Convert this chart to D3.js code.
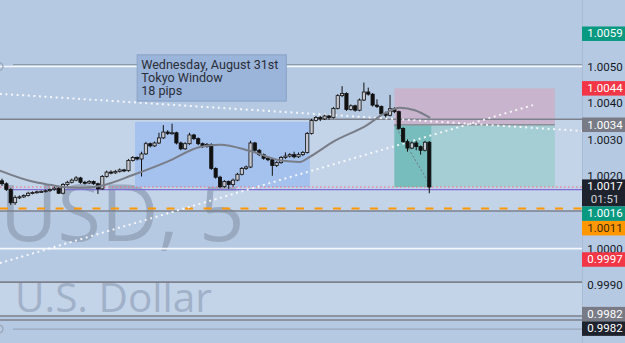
<!DOCTYPE html>
<html>
<head>
<meta charset="utf-8">
<script src="https://cdn.jsdelivr.net/npm/d3@7"></script>
<style>
  html, body { margin: 0; padding: 0; background: #b6c9e2; overflow: hidden; }
  svg { display: block; }
</style>
</head>
<body>
<div id="chart"></div>
<script>
// ── Velas 5m: [open, high, low, close] ─────────────────────────────────
const candles = [
  [1.00186, 1.00192, 1.00172, 1.00178], [1.00178, 1.00182, 1.00158, 1.00162],
  [1.00162, 1.00166, 1.00120, 1.00126], [1.00126, 1.00146, 1.00120, 1.00140],
  [1.00140, 1.00146, 1.00136, 1.00142], [1.00142, 1.00149, 1.00139, 1.00146],
  [1.00146, 1.00156, 1.00143, 1.00152], [1.00152, 1.00157, 1.00149, 1.00154],
  [1.00154, 1.00159, 1.00151, 1.00156], [1.00156, 1.00160, 1.00153, 1.00157],
  [1.00157, 1.00162, 1.00154, 1.00159], [1.00159, 1.00165, 1.00156, 1.00162],
  [1.00162, 1.00170, 1.00159, 1.00166], [1.00166, 1.00169, 1.00150, 1.00152],
  [1.00152, 1.00180, 1.00149, 1.00176], [1.00176, 1.00186, 1.00172, 1.00182],
  [1.00182, 1.00192, 1.00179, 1.00188], [1.00188, 1.00199, 1.00185, 1.00194],
  [1.00194, 1.00197, 1.00178, 1.00182], [1.00182, 1.00186, 1.00176, 1.00180],
  [1.00180, 1.00188, 1.00177, 1.00184], [1.00184, 1.00187, 1.00175, 1.00178],
  [1.00178, 1.00181, 1.00150, 1.00164], [1.00164, 1.00202, 1.00161, 1.00198],
  [1.00198, 1.00214, 1.00195, 1.00210], [1.00210, 1.00215, 1.00204, 1.00208],
  [1.00208, 1.00216, 1.00205, 1.00212], [1.00212, 1.00220, 1.00209, 1.00216],
  [1.00216, 1.00219, 1.00210, 1.00214], [1.00214, 1.00246, 1.00211, 1.00242],
  [1.00242, 1.00254, 1.00239, 1.00250], [1.00250, 1.00253, 1.00242, 1.00246],
  [1.00246, 1.00266, 1.00198, 1.00260], [1.00260, 1.00293, 1.00257, 1.00288],
  [1.00288, 1.00291, 1.00278, 1.00282], [1.00282, 1.00294, 1.00279, 1.00290],
  [1.00290, 1.00318, 1.00287, 1.00304], [1.00304, 1.00339, 1.00301, 1.00320],
  [1.00320, 1.00325, 1.00312, 1.00316], [1.00316, 1.00343, 1.00313, 1.00318],
  [1.00318, 1.00321, 1.00286, 1.00290], [1.00290, 1.00294, 1.00270, 1.00274],
  [1.00274, 1.00292, 1.00271, 1.00288], [1.00288, 1.00318, 1.00285, 1.00312],
  [1.00312, 1.00315, 1.00298, 1.00302], [1.00302, 1.00305, 1.00284, 1.00288],
  [1.00288, 1.00291, 1.00276, 1.00280], [1.00280, 1.00290, 1.00277, 1.00286],
  [1.00286, 1.00289, 1.00216, 1.00220], [1.00220, 1.00223, 1.00192, 1.00196],
  [1.00196, 1.00200, 1.00166, 1.00170], [1.00170, 1.00188, 1.00167, 1.00184],
  [1.00184, 1.00187, 1.00164, 1.00176], [1.00176, 1.00192, 1.00170, 1.00188],
  [1.00188, 1.00208, 1.00185, 1.00204], [1.00204, 1.00224, 1.00201, 1.00220],
  [1.00220, 1.00228, 1.00216, 1.00224], [1.00224, 1.00296, 1.00221, 1.00290],
  [1.00290, 1.00293, 1.00266, 1.00270], [1.00270, 1.00273, 1.00254, 1.00258],
  [1.00258, 1.00261, 1.00244, 1.00248], [1.00248, 1.00254, 1.00240, 1.00244],
  [1.00244, 1.00247, 1.00200, 1.00228], [1.00228, 1.00240, 1.00224, 1.00236],
  [1.00236, 1.00254, 1.00233, 1.00250], [1.00250, 1.00264, 1.00246, 1.00254],
  [1.00254, 1.00262, 1.00250, 1.00258], [1.00258, 1.00266, 1.00248, 1.00252],
  [1.00252, 1.00264, 1.00249, 1.00258], [1.00258, 1.00268, 1.00254, 1.00264],
  [1.00264, 1.00320, 1.00261, 1.00316], [1.00316, 1.00356, 1.00313, 1.00352],
  [1.00352, 1.00364, 1.00349, 1.00360], [1.00360, 1.00364, 1.00350, 1.00356],
  [1.00356, 1.00368, 1.00353, 1.00364], [1.00364, 1.00367, 1.00354, 1.00360],
  [1.00360, 1.00389, 1.00357, 1.00385], [1.00385, 1.00424, 1.00382, 1.00420],
  [1.00420, 1.00446, 1.00416, 1.00426], [1.00426, 1.00429, 1.00378, 1.00382],
  [1.00382, 1.00396, 1.00379, 1.00392], [1.00392, 1.00395, 1.00376, 1.00380],
  [1.00380, 1.00412, 1.00377, 1.00408], [1.00408, 1.00456, 1.00405, 1.00430],
  [1.00430, 1.00442, 1.00420, 1.00424], [1.00424, 1.00427, 1.00390, 1.00394],
  [1.00394, 1.00410, 1.00386, 1.00390], [1.00390, 1.00393, 1.00366, 1.00370],
  [1.00370, 1.00376, 1.00360, 1.00366], [1.00366, 1.00422, 1.00363, 1.00384],
  [1.00384, 1.00388, 1.00372, 1.00376], [1.00376, 1.00379, 1.00326, 1.00330],
  [1.00330, 1.00333, 1.00290, 1.00294], [1.00294, 1.00300, 1.00266, 1.00276],
  [1.00276, 1.00294, 1.00273, 1.00290], [1.00290, 1.00296, 1.00270, 1.00280],
  [1.00280, 1.00283, 1.00258, 1.00270], [1.00270, 1.00296, 1.00267, 1.00292],
  [1.00292, 1.00295, 1.00152, 1.00169]
];

// ── Media móvil: [índice de vela, precio] ──────────────────────────────
const maPoints = [
  [-0.5, 1.00214], [7, 1.00184], [11, 1.00175], [14, 1.00169], [18, 1.00167],
  [22.5, 1.00172], [30, 1.00202], [37.8, 1.00238], [45.4, 1.00279], [50, 1.00285],
  [56.9, 1.00268], [64.4, 1.00241], [68.3, 1.00238], [70.6, 1.00252], [75.9, 1.00293],
  [83.7, 1.00339], [87.8, 1.00372], [91.3, 1.00387], [94.7, 1.00380], [98.2, 1.00359]
];

// ── Niveles y dibujos ───────────────────────────────────────────────────
const axisTicks = [1.0050, 1.0040, 1.0030, 1.0020, 1.0000, 0.9990];
const greyLevels = [1.00355, 1.00103, 0.99908, 0.99815, 0.99804];
const whiteLevels = [1.0050, 1.0000];
const faintLevel = 0.99779;
const orangeLevel = 1.0011;
const purpleLevel = 1.00162;
const lightBands = [[1.00355, 1.00103], [0.99908, 0.99815]];
const trendLines = [
  [[-0.5, 1.00425], [133, 1.00323]],
  [[-0.5, 0.99960], [121.8, 1.00394]]
];
const tokyoBox = { i0: 30.5, i1: 70.6, high: 1.00348, low: 1.00169 };
const noteBox = { i0: 31, i1: 65.2, top: 1.00532, bottom: 1.00405 };
const noteLines = ["Wednesday, August 31st", "Tokyo Window", "18 pips"];
const position = { i0: 90, i1: 126.8, entry: 1.0034, stop: 1.0044, target: 1.0017 };

const priceTags = [
  { price: 1.0059, text: "1.0059", kind: "green" },
  { price: 1.0044, text: "1.0044", kind: "red" },
  { price: 1.0034, text: "1.0034", kind: "grey" },
  { price: 1.0017, text: "1.0017", kind: "dark", sub: "01:51" },
  { price: 1.0016, text: "1.0016", kind: "green" },
  { price: 1.0011, text: "1.0011", kind: "orange" },
  { price: 0.9997, text: "0.9997", kind: "red" },
  { price: 0.9982, text: "0.9982", kind: "grey" },
  { price: 0.9982, text: "0.9982", kind: "dark" }
];

// ── Lienzo ──────────────────────────────────────────────────────────────
const width = 625, height = 343, plotW = 582;
const lastClose = candles[candles.length - 1][3];

const x = d3.scaleLinear().domain([0, candles.length - 1]).range([2, 429.3]);
const y = d3.scaleLinear().domain([0.9990, 1.0050]).range([285, 66.5]);

const svg = d3.select("#chart").append("svg")
  .attr("width", width).attr("height", height)
  .attr("viewBox", [0, 0, width, height]);

svg.append("defs").append("clipPath").attr("id", "plot")
  .append("rect").attr("width", plotW).attr("height", height);

svg.append("rect").attr("width", width).attr("height", height).attr("fill", "#b6c9e2");

const g = svg.append("g").attr("clip-path", "url(#plot)");

// bandas claras
g.selectAll(".band").data(lightBands).join("rect")
  .attr("x", 0).attr("width", plotW)
  .attr("y", d => y(d[0])).attr("height", d => y(d[1]) - y(d[0]))
  .attr("fill", "#c3d3e8");

// marca de agua
g.append("text").attr("x", 0).attr("y", 241)
  .attr("font-family", "'Open Sans', sans-serif").attr("font-size", 79)
  .attr("fill", "#8e9db4").attr("fill-opacity", 0.75)
  .text("USD, 5");
g.append("text").attr("x", 15).attr("y", 312)
  .attr("font-family", "'Open Sans', sans-serif").attr("font-size", 40.5)
  .attr("fill", "#97a8c0").attr("fill-opacity", 0.8)
  .text("U.S. Dollar");

// ventana de Tokio
g.append("rect")
  .attr("x", x(tokyoBox.i0)).attr("width", x(tokyoBox.i1) - x(tokyoBox.i0))
  .attr("y", y(tokyoBox.high)).attr("height", y(tokyoBox.low) - y(tokyoBox.high))
  .attr("fill", "#a5c1ed");

// posición corta
const px0 = x(position.i0), px1 = x(position.i1), pxNow = x(candles.length - 1) + 2;
g.append("rect").attr("x", px0).attr("width", px1 - px0)
  .attr("y", y(position.stop)).attr("height", y(position.entry) - y(position.stop))
  .attr("fill", "#c8b4cd");
g.append("rect").attr("x", px0).attr("width", px1 - px0)
  .attr("y", y(position.entry)).attr("height", y(position.target) - y(position.entry))
  .attr("fill", "#a4cdd4");
g.append("rect").attr("x", px0).attr("width", pxNow - px0)
  .attr("y", y(position.entry)).attr("height", y(lastClose) - y(position.entry))
  .attr("fill", "#78bdbd");
g.append("line")
  .attr("x1", px0).attr("x2", px1).attr("y1", y(position.entry)).attr("y2", y(position.entry))
  .attr("stroke", "#8f8f99").attr("stroke-width", 1.5);
g.append("line")
  .attr("x1", px0).attr("x2", pxNow).attr("y1", y(position.entry)).attr("y2", y(lastClose))
  .attr("stroke", "#6f7480").attr("stroke-width", 1).attr("stroke-dasharray", "2 2");

// líneas horizontales
g.selectAll(".grey").data(greyLevels).join("line")
  .attr("x1", 0).attr("x2", plotW).attr("y1", d => y(d)).attr("y2", d => y(d))
  .attr("stroke", "#7c818d").attr("stroke-width", 1.6);
g.append("line").attr("x1", 13).attr("x2", plotW)
  .attr("y1", y(1.0050) - 2).attr("y2", y(1.0050) - 2)
  .attr("stroke", "#8e99a8").attr("stroke-width", 1.2);
g.selectAll(".white").data(whiteLevels).join("line")
  .attr("x1", 0).attr("x2", plotW).attr("y1", d => y(d)).attr("y2", d => y(d))
  .attr("stroke", "#f4f7fb").attr("stroke-width", 1.6);
g.append("line").attr("x1", 13).attr("x2", plotW)
  .attr("y1", y(faintLevel)).attr("y2", y(faintLevel))
  .attr("stroke", "#9aa7ba").attr("stroke-width", 1.2);
g.selectAll(".anchor").data([1.0050, faintLevel]).join("circle")
  .attr("cx", -1).attr("cy", d => y(d)).attr("r", 4)
  .attr("fill", "none").attr("stroke", "#98a3b4").attr("stroke-width", 1.2);
g.append("line").attr("x1", 0).attr("x2", plotW)
  .attr("y1", y(orangeLevel)).attr("y2", y(orangeLevel))
  .attr("stroke", "#ff9800").attr("stroke-width", 2).attr("stroke-dasharray", "8 10.5");
g.append("line").attr("x1", 13).attr("x2", plotW)
  .attr("y1", y(purpleLevel)).attr("y2", y(purpleLevel))
  .attr("stroke", "#7d6fd2").attr("stroke-width", 1.4);
g.append("line").attr("x1", 0).attr("x2", plotW)
  .attr("y1", y(lastClose)).attr("y2", y(lastClose))
  .attr("stroke", "#f0697a").attr("stroke-width", 1).attr("stroke-dasharray", "1.5 2.5");

// líneas de tendencia punteadas
g.selectAll(".trend").data(trendLines).join("line")
  .attr("x1", d => x(d[0][0])).attr("y1", d => y(d[0][1]))
  .attr("x2", d => x(d[1][0])).attr("y2", d => y(d[1][1]))
  .attr("stroke", "#ffffff").attr("stroke-opacity", 0.85)
  .attr("stroke-width", 2).attr("stroke-dasharray", "2 3.6");

// nota
g.append("rect")
  .attr("x", x(noteBox.i0)).attr("width", x(noteBox.i1) - x(noteBox.i0))
  .attr("y", y(noteBox.top)).attr("height", y(noteBox.bottom) - y(noteBox.top))
  .attr("fill", "#9bb4da").attr("stroke", "#8aa2c6").attr("stroke-width", 1);
g.append("text")
  .attr("x", x(noteBox.i0) + 4).attr("y", y(noteBox.top) + 14.5)
  .attr("font-family", "Roboto, sans-serif").attr("font-size", 12.6).attr("fill", "#2a2e39")
  .selectAll("tspan").data(noteLines).join("tspan")
  .attr("x", x(noteBox.i0) + 4).attr("dy", (d, i) => i ? 13 : 0)
  .text(d => d);

// velas
const cg = g.append("g");
cg.selectAll("line").data(candles).join("line")
  .attr("x1", (d, i) => x(i)).attr("x2", (d, i) => x(i))
  .attr("y1", d => y(d[1])).attr("y2", d => y(d[2]))
  .attr("stroke", "#111").attr("stroke-width", 1);
cg.selectAll("rect").data(candles).join("rect")
  .attr("x", (d, i) => x(i) - 1.6).attr("width", 3.2)
  .attr("y", d => y(Math.max(d[0], d[3])))
  .attr("height", d => Math.max(1, Math.abs(y(d[0]) - y(d[3]))))
  .attr("fill", d => d[3] >= d[0] ? "#c4c7cf" : "#111")
  .attr("stroke", "#111").attr("stroke-width", 0.8);

// media móvil
g.append("path").datum(maPoints)
  .attr("d", d3.line().x(d => x(d[0])).y(d => y(d[1])).curve(d3.curveMonotoneX))
  .attr("fill", "none").attr("stroke", "#787d88").attr("stroke-width", 2);

// ── Escala de precios ───────────────────────────────────────────────────
svg.append("line").attr("x1", plotW + 0.5).attr("x2", plotW + 0.5).attr("y1", 0).attr("y2", height)
  .attr("stroke", "#aabcd4").attr("stroke-width", 1);

const axis = svg.append("g").attr("transform", `translate(${plotW},0)`)
  .call(d3.axisRight(y).tickValues(axisTicks).tickSize(0).tickFormat(d3.format(".4f")));
axis.select(".domain").remove();
axis.selectAll("text")
  .attr("x", 23).attr("text-anchor", "middle")
  .attr("font-family", "Roboto, sans-serif").attr("font-size", 11.5).attr("fill", "#131722");

const tagColors = { green: "#089981", red: "#f23645", grey: "#787b86", dark: "#1e222d", orange: "#ff9800" };
let prevBottom = -Infinity;
const tags = priceTags.map(t => {
  const h = t.sub ? 27 : 14.5;
  const top = Math.max(y(t.price) - 7.25, prevBottom);
  prevBottom = top + h;
  return { ...t, top, h };
});
const tg = svg.append("g").selectAll("g").data(tags).join("g")
  .attr("transform", d => `translate(${plotW},${d.top})`);
tg.append("rect").attr("width", width - plotW).attr("height", d => d.h)
  .attr("fill", d => tagColors[d.kind]);
tg.append("text").attr("x", 23).attr("y", 11)
  .attr("text-anchor", "middle").attr("font-family", "Roboto, sans-serif").attr("font-size", 11.5)
  .attr("fill", d => d.kind === "orange" ? "#3a2a10" : "#ffffff")
  .text(d => d.text);
tg.filter(d => d.sub).append("text").attr("x", 23).attr("y", 23.5)
  .attr("text-anchor", "middle").attr("font-family", "Roboto, sans-serif").attr("font-size", 11.5)
  .attr("fill", "#d1d4dc")
  .text(d => d.sub);
</script>
</body>
</html>
